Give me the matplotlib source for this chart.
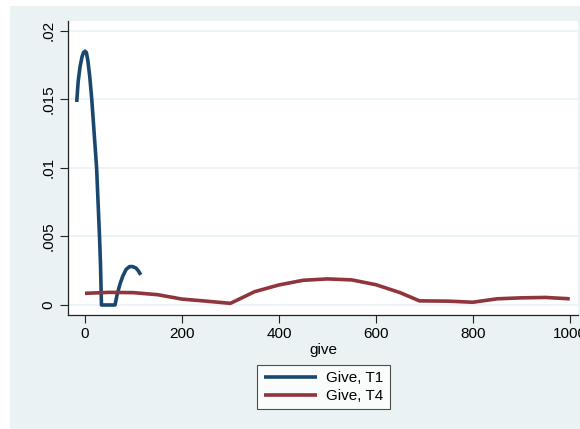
import matplotlib
matplotlib.use("Agg")
import matplotlib.pyplot as plt
from matplotlib.patches import Rectangle

# Data
t1_x = [-17, -14, -10, -6, -3, 0, 3, 6, 10, 14, 19, 24, 27, 30, 32, 34, 62, 66, 72, 78, 85, 92, 98, 105, 110, 115]
t1_y = [0.0148, 0.0163, 0.0174, 0.0181, 0.0184, 0.0185, 0.0184, 0.0178, 0.0166, 0.0150, 0.0125, 0.0100, 0.0075,
        0.0050, 0.0030, 0.0, 0.0, 0.0007, 0.0015, 0.0021, 0.0026, 0.0028, 0.0028, 0.0027, 0.0025, 0.0022]

t4_x = [0, 50, 100, 150, 200, 250, 300, 350, 400, 450, 500, 550, 600, 650, 690,
        750, 800, 850, 900, 950, 1000]
t4_y = [0.00085, 0.00092, 0.00090, 0.00075, 0.00043, 0.00028, 0.00012, 0.00097, 0.00146, 0.00180,
        0.00190, 0.00183, 0.00148, 0.00090, 0.00030, 0.00028, 0.00020, 0.00045, 0.00052, 0.00055, 0.00045]

labels = ["Give, T1", "Give, T4"]
xticks = [0, 200, 400, 600, 800, 1000]
yticks = [0, 0.005, 0.01, 0.015, 0.02]
yticklabels = ["0", ".005", ".01", ".015", ".02"]

BG = "#EAF2F3"
NAVY = "#1A476F"
MAROON = "#90353B"

plt.rcParams["font.family"] = ["Liberation Sans", "DejaVu Sans"]

W, H = 580, 429
fig = plt.figure(figsize=(W / 100, H / 100), dpi=100)
fig.patch.set_facecolor("white")
fig.add_artist(Rectangle((10 / W, 0), 1, 1 - 6 / H, transform=fig.transFigure,
                         facecolor=BG, edgecolor="none", zorder=-10))

ax = fig.add_axes([68 / W, 1 - 315 / H, (578 - 68) / W, (315 - 21) / H])
ax.set_facecolor("white")

LW = 2.6
ax.plot(t1_x, t1_y, color=NAVY, lw=LW, label=labels[0], solid_joinstyle="round", solid_capstyle="butt")
ax.plot(t4_x, t4_y, color=MAROON, lw=LW, label=labels[1], solid_joinstyle="round", solid_capstyle="butt")

ax.set_xlim(-35, 1017)
ax.set_ylim(-0.00073, 0.0207)
ax.set_xticks(xticks)
ax.set_xticklabels([str(v) for v in xticks])
ax.set_yticks(yticks)
ax.set_yticklabels(yticklabels, rotation=90, va="center")
ax.grid(axis="y", color=BG, lw=1.2)
ax.set_axisbelow(True)
for s in ["top", "right"]:
    ax.spines[s].set_visible(False)
for s in ["left", "bottom"]:
    ax.spines[s].set_color("#222222")
    ax.spines[s].set_linewidth(0.9)
ax.tick_params(length=6, width=0.8, color="#222222", labelsize=11, pad=3)
ax.set_xlabel("give", fontsize=11, labelpad=1)

leg = fig.legend(loc="center", bbox_to_anchor=(323.5 / W, 1 - 387 / H), ncol=1,
                 frameon=True, fancybox=False, handlelength=3.5, fontsize=11,
                 borderpad=0.4, labelspacing=0.25, handletextpad=0.6)
leg.get_frame().set_edgecolor("#222222")
leg.get_frame().set_linewidth(0.8)
for l in leg.get_lines():
    l.set_linewidth(LW)

fig.savefig("out.png", dpi=100, facecolor=fig.get_facecolor())
